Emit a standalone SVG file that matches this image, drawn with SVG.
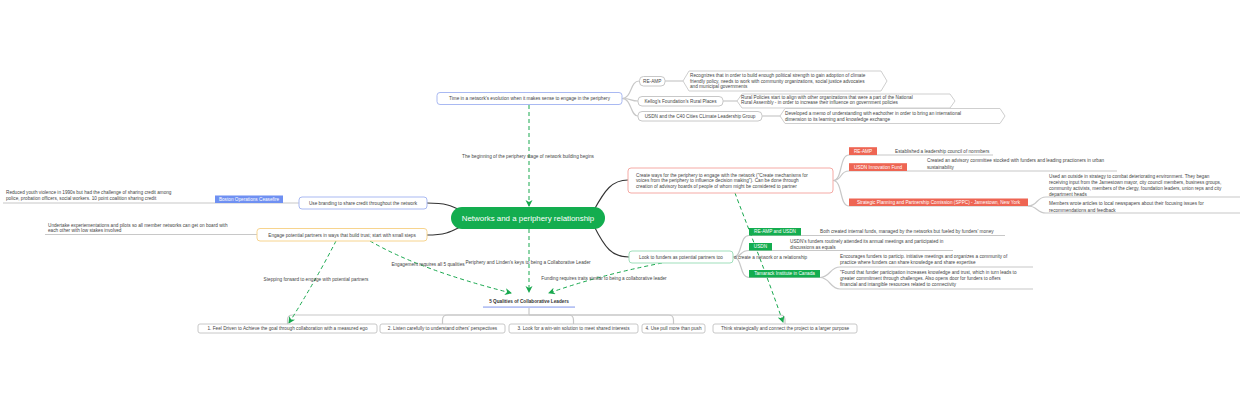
<svg xmlns="http://www.w3.org/2000/svg" width="1240" height="400" viewBox="0 0 1240 400">
<defs>
<style>
text{font-family:"Liberation Sans",Arial,sans-serif;font-size:4.7px;fill:#444;}
.c{text-anchor:middle;}
.w{fill:#fff;}
.gl{fill:none;stroke:#c8c8c8;stroke-width:1.2;}
.dk{fill:none;stroke:#333;stroke-width:1.1;}
.ds{fill:none;stroke:#18a84e;stroke-width:1;stroke-dasharray:4 3;marker-end:url(#ah);}
.gb{fill:#fff;stroke:#c8c8c8;stroke-width:1;}
.hx{fill:#fff;stroke:#cfcfcf;stroke-width:1;stroke-linejoin:round;}
.red{fill:#ee6553;}
.grn{fill:#13ad4f;}
.blu{fill:#6f90f2;}
</style>
<marker id="ah" markerUnits="userSpaceOnUse" markerWidth="8" markerHeight="8" refX="6" refY="3.5" orient="auto">
<path d="M0,0 L7,3.5 L0,7 L2,3.5 z" fill="#18a84e"/>
</marker>
</defs>
<rect width="1240" height="400" fill="#fff"/>

<g id="connectors">
<path class="dk" d="M427,203 C447,203 452,206 462,211"/>
<path class="dk" d="M427,235 C447,235 452,231 462,226"/>
<path class="dk" d="M594,210 C605,190 612,180 628,180"/>
<path class="dk" d="M594,226 C605,248 612,257 629,257"/>
<path class="gl" d="M622,98.5 C632,98.5 630,81 639,81"/>
<path class="gl" d="M622,98.5 C632,98.5 630,101 638,101"/>
<path class="gl" d="M622,98.5 C632,98.5 630,116 638,116"/>
<path class="gl" d="M665,81 H683"/>
<path class="gl" d="M723,101 H737"/>
<path class="gl" d="M762,116 H780"/>
<path class="gl" d="M833,180.5 C843,180.5 839,155 849,155"/>
<path class="gl" d="M833,180.5 C843,180.5 839,171 849,171"/>
<path class="gl" d="M833,180.5 C843,180.5 839,206 849,206"/>
<path class="gl" d="M849,155 H993"/>
<path class="gl" d="M849,171 H1117"/>
<path class="gl" d="M849,206 H1028"/>
<path class="gl" d="M1028,206 C1038,206 1036,197 1046,197 H1240"/>
<path class="gl" d="M1028,206 C1038,206 1036,213 1046,213 H1240"/>
<path class="gl" d="M3,203 H299"/>
<path class="gl" d="M45,234.5 H257"/>
<path class="gl" d="M733,257 C743,257 739,235.5 749,235.5"/>
<path class="gl" d="M733,257 C743,257 739,250.5 749,250.5"/>
<path class="gl" d="M733,257 C743,257 739,277.5 749,277.5"/>
<path class="gl" d="M749,235.5 H1005"/>
<path class="gl" d="M749,250.5 H953"/>
<path class="gl" d="M749,277.5 H820"/>
<path class="gl" d="M820,277.5 C830,277.5 830,267 840,267 H1033"/>
<path class="gl" d="M820,277.5 C830,277.5 830,289 840,289 H1033"/>
<path class="gl" d="M529,308 V315"/>
<path class="gl" d="M529,315 H292.5 Q287.5,315 287.5,320 V324"/>
<path class="gl" d="M529,315 H447.5 Q442.5,315 442.5,320 V324"/>
<path class="gl" d="M529,315 H568.5 Q573.5,315 573.5,320 V324"/>
<path class="gl" d="M529,315 H668.5 Q673.5,315 673.5,320 V324"/>
<path class="gl" d="M529,315 H780 Q785,315 785,320 V324"/>
<path class="ds" d="M529,105 L529,206"/>
<text class="c" x="528" y="157.5">The beginning of the periphery stage of network building begins</text>
<path class="ds" d="M529,229 L529,292"/>
<text class="c" x="528" y="263.8">Periphery and Linden's keys to being a Collaborative Leader</text>
<path class="ds" d="M370,241 Q420,270 511,293"/>
<text class="c" x="428" y="266">Engagement requires all 5 qualities</text>
<path class="ds" d="M336,241 Q316,280 289,323"/>
<text class="c" x="316" y="281">Stepping forward to engage with potential partners</text>
<path class="ds" d="M662,263 Q600,275 549,293"/>
<text class="c" x="604" y="280">Funding requires traits similar to being a collaborative leader</text>
<path class="ds" d="M735,193 C745,220 765,270 783,322"/>
<text x="734" y="258.8">o create a network or a relationship</text>
</g>

<g id="n-central">
<rect x="451" y="207" width="154" height="22" rx="11" class="grn"/>
<text class="c w" x="528" y="220.8" style="font-size:7.9px">Networks and a periphery relationship</text>
</g>

<g id="n-time">
<rect x="437" y="92.5" width="185" height="12" rx="3" fill="#fff" stroke="#a9b9f2" stroke-width="1"/>
<text class="c" x="529.5" y="100.3">Time in a network's evolution when it makes sense to engage in the periphery</text>
</g>

<g id="n-reamp1">
<rect x="639.5" y="76.5" width="25.5" height="9.5" rx="4" class="gb"/>
<text class="c" x="652.2" y="83">RE-AMP</text>
</g>
<g id="n-kellogg">
<rect x="638" y="96.5" width="85" height="9.5" rx="4" class="gb"/>
<text class="c" x="680.5" y="103">Kellog's Foundation's Rural Places</text>
</g>
<g id="n-usdnc40">
<rect x="638" y="111.5" width="124" height="9.5" rx="4" class="gb"/>
<text class="c" x="700" y="118">USDN and the C40 Cities CLimate Leadership Group</text>
</g>
<g id="n-recognizes">
<path class="hx" d="M683,81 L689,71 L881,71 L887,81 L881,91 L689,91 Z"/>
<text x="690" y="76.8">Recognizes that in order to build enough political strength to gain adoption of climate</text>
<text x="690" y="82.6">friendly policy, needs to work with community organizations, social justice advocates</text>
<text x="690" y="88.4">and municipal governments</text>
</g>
<g id="n-rural">
<path class="hx" d="M737,101 L742,94 L950,94 L955,101 L950,108 L742,108 Z"/>
<text x="741" y="98.5">Rural Policies start to align with other organizations that were a part of the National</text>
<text x="741" y="104.4">Rural Assembly - in order to increase their influence on government policies</text>
</g>
<g id="n-memo">
<path class="hx" d="M780,116 L785,108.5 L1000,108.5 L1005,116 L1000,123.5 L785,123.5 Z"/>
<text x="785" y="114.6">Developed a memo of understanding with eachother in order to bring an international</text>
<text x="785" y="120.6">dimension to its learning and knowledge exchange</text>
</g>

<g id="n-create">
<rect x="628" y="168" width="205" height="25" rx="3" fill="#fff" stroke="#f5aaa5" stroke-width="1"/>
<text x="636" y="176.7">Create ways for the periphery to engage with the network ("Create mechanisms for</text>
<text x="636" y="182.2">voices from the periphery to influence decision making"). Can be done through</text>
<text x="636" y="187.7">creation of advisory boards of people of whom might be considered to partner</text>
</g>
<g id="n-reamp2">
<rect x="849" y="147.2" width="28" height="7.8" class="red"/>
<text class="c w" x="863" y="152.8">RE-AMP</text>
<text x="895" y="152.8">Established a leadership council of nonmbers</text>
</g>
<g id="n-usdnif">
<rect x="849" y="163.2" width="58" height="7.8" class="red"/>
<text class="c w" x="878" y="168.8">USDN Innovation Fund</text>
<text x="927" y="161.8">Created an advisory committee stocked with funders and leading practioners in  urban</text>
<text x="927" y="168.5">sustainability</text>
</g>
<g id="n-sppc">
<rect x="849" y="198.5" width="179" height="7.5" class="red"/>
<text class="c w" x="938.5" y="204">Strategic Planning and Partnership Comission (SPPC) - Jamestown, New York</text>
</g>
<g id="n-outside">
<text x="1049" y="178.4">Used an outside in strategy to combat deteriorating environment. They began</text>
<text x="1049" y="184.3">receiving input from the Jamestown mayor, city council members, business groups,</text>
<text x="1049" y="190">community activists, members of the clergy, foundation leaders, union reps and city</text>
<text x="1049" y="195.7">department heads</text>
</g>
<g id="n-members">
<text x="1049" y="205">Members wrote articles to local newspapers about their focusing issues for</text>
<text x="1049" y="211.6">recommendations and feedback</text>
</g>

<g id="n-branding">
<rect x="299" y="197" width="128" height="12" rx="3" fill="#fff" stroke="#a9b9f2" stroke-width="1"/>
<text class="c" x="363" y="204.7">Use branding to share credit throughout the network</text>
</g>
<g id="n-boston">
<rect x="215" y="195.5" width="68" height="7.5" class="blu"/>
<text class="c w" x="249" y="201">Boston Operations Ceasefire</text>
<text x="6" y="194">Reduced youth violence in 1990s but had the challenge of sharing credit among</text>
<text x="6" y="200">police, probation officers, social workers. 10 point coalition sharing credit</text>
</g>
<g id="n-engage">
<rect x="257" y="228.5" width="170" height="12.5" rx="3" fill="#fff" stroke="#f7d48e" stroke-width="1"/>
<text class="c" x="342" y="236.5">Engage potential partners in ways that build trust; start with small steps</text>
<text x="48" y="226.7">Undertake experiementations and pilots so all member networks can get on board with</text>
<text x="48" y="232.4">each other with low stakes involved</text>
</g>

<g id="n-funders">
<rect x="629" y="251" width="104" height="12" rx="3" fill="#fff" stroke="#9fdfbb" stroke-width="1"/>
<text class="c" x="681" y="258.7">Look to funders as potential partners too</text>
</g>
<g id="n-reampusdn">
<rect x="749" y="228" width="52" height="7.5" class="grn"/>
<text class="c w" x="775" y="233.4">RE-AMP and USDN</text>
<text x="820" y="232.8">Both created internal funds, managed by the networks but fueled by funders' money</text>
</g>
<g id="n-usdn">
<rect x="749" y="243" width="23" height="7.5" class="grn"/>
<text class="c w" x="760.5" y="248.4">USDN</text>
<text x="790" y="242.7">USDN's funders routinely attended its annual meetings and participated in</text>
<text x="790" y="248.7">discussions as equals</text>
</g>
<g id="n-tamarack">
<rect x="749" y="270" width="71" height="7.5" class="grn"/>
<text class="c w" x="784.5" y="275.4">Tamarack Institute in Canada</text>
<text x="840" y="257.7">Encourages funders to particip. initiative meetings and organizes a community of</text>
<text x="840" y="264.3">practice where funders can share knowledge and share expertise</text>
<text x="840" y="274.4">"Found that funder participation increases knowledge and trust, which in turn leads to</text>
<text x="840" y="280.3">greater commitment through challenges. Also opens door for funders to offers</text>
<text x="840" y="286">financial and intangible resources related to connectivity</text>
</g>

<g id="n-qualities">
<text class="c" x="529" y="303.2" style="font-weight:bold;fill:#333">5 Qualities of Collaborative Leaders</text>
<rect x="483" y="306.3" width="92" height="1.6" fill="#aebcf3"/>
</g>
<g id="n-q1">
<rect x="198" y="324" width="179" height="9" rx="2" class="gb"/>
<text class="c" x="287.5" y="330.3">1. Feel Driven to Achieve the goal through collaboration with a measured ego</text>
</g>
<g id="n-q2">
<rect x="380" y="324" width="125" height="9" rx="2" class="gb"/>
<text class="c" x="442.5" y="330.3">2. Listen carefully to understand others' perspectives</text>
</g>
<g id="n-q3">
<rect x="509" y="324" width="129" height="9" rx="2" class="gb"/>
<text class="c" x="573.5" y="330.3">3. Look for a win-win solution to meet shared interests</text>
</g>
<g id="n-q4">
<rect x="642" y="324" width="63" height="9" rx="2" class="gb"/>
<text class="c" x="673.5" y="330.3">4. Use pull more than push</text>
</g>
<g id="n-q5">
<rect x="713" y="324" width="144" height="9" rx="2" class="gb"/>
<text class="c" x="785" y="330.3">Think strategically and connect the project to a larger purpose</text>
</g>
</svg>
